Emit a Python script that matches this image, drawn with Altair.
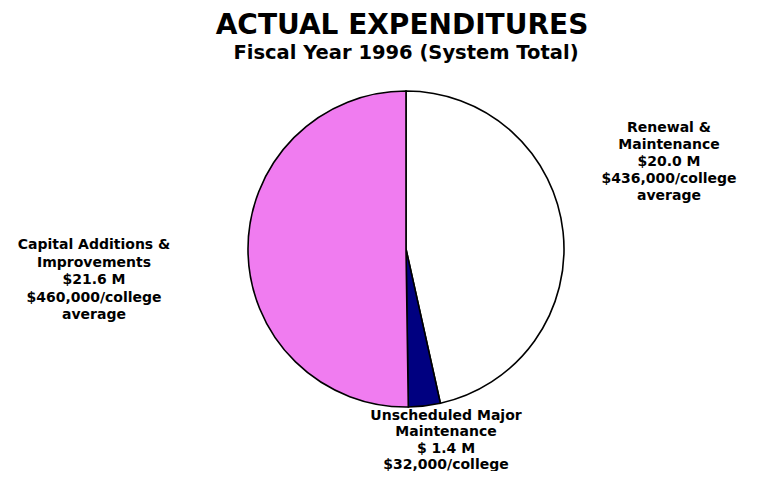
import altair as alt
import pandas as pd

# ---- data ----
categories = ["Renewal & Maintenance", "Unscheduled Major Maintenance", "Capital Additions & Improvements"]
amounts_m = [20.0, 1.4, 21.6]
slice_order = [1, 2, 3]
slice_colors = ["#FFFFFF", "#000080", "#F07CF0"]

title_text = "ACTUAL EXPENDITURES"
subtitle_text = "Fiscal Year 1996 (System Total)"

label_renewal = ["Renewal &", "Maintenance", "$20.0 M", "$436,000/college", "average"]
label_unscheduled = ["Unscheduled Major", "Maintenance", "$ 1.4 M", "$32,000/college"]
label_capital = ["Capital Additions &", "Improvements", "$21.6 M", "$460,000/college", "average"]

df = pd.DataFrame({"category": categories, "amount": amounts_m, "idx": slice_order})
one = pd.DataFrame({"k": [0]})

FONT = "DejaVu Sans"

pie = alt.Chart(df).mark_arc(radius=158, stroke="black", strokeWidth=1.6).encode(
    theta=alt.Theta("amount:Q", stack=True),
    order=alt.Order("idx:Q"),
    color=alt.Color("category:N",
                    scale=alt.Scale(domain=categories, range=slice_colors),
                    legend=None),
    x=alt.value(398),
    y=alt.value(241),
)

def text_layer(txt, x, y, size, lh=17, align="center"):
    return alt.Chart(one).mark_text(
        text=txt, font=FONT, fontWeight="bold", fontSize=size, lineHeight=lh,
        align=align, baseline="alphabetic", color="black",
    ).encode(x=alt.value(x), y=alt.value(y))

title = text_layer(title_text, 394, 26, 28)
subtitle = text_layer(subtitle_text, 398, 51, 19.5)
lab_r = text_layer(label_renewal, 661, 124, 14, lh=17)
lab_u = text_layer(label_unscheduled, 438, 412, 14, lh=16.3)
lab_c = text_layer(label_capital, 86, 241, 14, lh=17.5)

chart = alt.layer(pie, title, subtitle, lab_r, lab_u, lab_c).properties(
    width=741, height=463, autosize="none", padding=0, background="white"
).configure_view(stroke=None)

chart.save("out.html", embed_options={"renderer": "svg", "actions": False})
